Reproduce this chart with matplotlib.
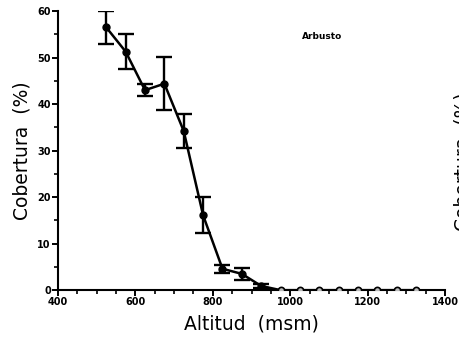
import numpy as np
import matplotlib
matplotlib.use("Agg")
from matplotlib import pyplot as plt
from matplotlib.ticker import MultipleLocator

# altitud (msm) y cobertura de arbusto (%)
altitud = [525, 575, 625, 675, 725, 775, 825, 875, 925, 975, 1025, 1075, 1125, 1175, 1225, 1275, 1325]
cobertura = [56.5, 51.3, 43.0, 44.4, 34.2, 16.1, 4.6, 3.5, 0.9, 0, 0, 0, 0, 0, 0, 0, 0]
error = [3.6, 3.7, 1.3, 5.7, 3.6, 3.9, 0.9, 1.3, 0.5, 0, 0, 0, 0, 0, 0, 0, 0]

fig = plt.figure(figsize=(4.59, 3.37), dpi=100)
ax = fig.add_axes([0.126, 0.139, 0.844, 0.828])

x = np.array(altitud)
y = np.array(cobertura)
e = np.array(error)
conerr = e > 0
ax.errorbar(x[conerr], y[conerr], yerr=e[conerr], fmt='none', ecolor='black',
            elinewidth=1.7, capsize=6, capthick=1.7, zorder=2)
ax.plot(x, y, color='black', lw=1.8, zorder=3)
ax.plot(x[y > 0], y[y > 0], 'o', color='black', ms=5, zorder=4)
ax.plot(x[y == 0], y[y == 0], 'o', mfc='#bbbbbb', mec='black', mew=1.2, ms=4.5, zorder=4)

ax.set_xlim(400, 1400)
ax.set_ylim(0, 60)
ax.xaxis.set_major_locator(MultipleLocator(200))
ax.xaxis.set_minor_locator(MultipleLocator(50))
ax.yaxis.set_major_locator(MultipleLocator(10))
ax.yaxis.set_minor_locator(MultipleLocator(5))
for s in ['top', 'right']:
    ax.spines[s].set_visible(False)
for s in ['left', 'bottom']:
    ax.spines[s].set_linewidth(1.5)
ax.tick_params(which='major', direction='out', length=4, width=1.4, labelsize=7, pad=1)
ax.tick_params(which='minor', direction='out', length=3, width=1.2)
for lab in ax.get_xticklabels() + ax.get_yticklabels():
    lab.set_fontweight('bold')

ax.set_xlabel('Altitud  (msm)', fontsize=13.5, labelpad=5)
ax.set_ylabel('Cobertura  (%)', fontsize=13.5, labelpad=4)
ax.text(0.63, 0.9, 'Arbusto', transform=ax.transAxes, fontsize=6.5, fontweight='bold')

# etiqueta del panel vecino, cortada en el borde
fig.text(1.008, 0.52, 'Cobertura  (%)', rotation=90, fontsize=13.5, va='center', ha='center')

fig.savefig('out.png', dpi=100)
